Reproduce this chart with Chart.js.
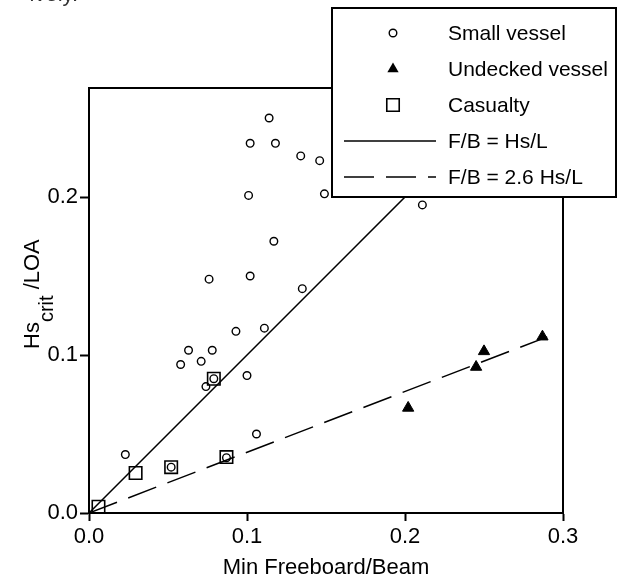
<!DOCTYPE html>
<html>
<head>
<meta charset="utf-8">
<script src="https://cdn.jsdelivr.net/npm/chart.js@4/dist/chart.umd.min.js"></script>
<style>
  html, body { margin: 0; padding: 0; background: #fff; }
  canvas { display: block; }
</style>
</head>
<body>
<canvas id="chart" width="618" height="582"></canvas>
<script>
var FONT = "'Liberation Sans', Arial, sans-serif"

var smallX = [0.114, 0.102, 0.118, 0.134, 0.146, 0.101, 0.149, 0.211, 0.117, 0.076, 0.102, 0.135, 0.093,
  0.111, 0.063, 0.078, 0.058, 0.071, 0.079, 0.074, 0.100, 0.106, 0.023, 0.052, 0.087]
var smallY = [0.250, 0.234, 0.234, 0.226, 0.223, 0.201, 0.202, 0.195, 0.172, 0.148, 0.150, 0.142, 0.115,
  0.117, 0.103, 0.103, 0.094, 0.096, 0.085, 0.080, 0.087, 0.050, 0.037, 0.029, 0.035]
var undeckedX = [0.202, 0.245, 0.250, 0.287]
var undeckedY = [0.0665, 0.0924, 0.1023, 0.1116]
var casualtyX = [0.006, 0.0295, 0.052, 0.087, 0.079]
var casualtyY = [0.004, 0.0253, 0.029, 0.0354, 0.085]
var lineX = [0, 0.27]
var lineY = [0, 0.27]
var dashX = [0, 0.29]
var dashY = [0, 0.1115]

var xTicks = [0, 0.1, 0.2, 0.3]
var yTicks = [0, 0.1, 0.2]
var labels = ['Small vessel', 'Undecked vessel', 'Casualty', 'F/B = Hs/L', 'F/B = 2.6 Hs/L']

var toPoints = function (xs, ys) {
  return xs.map(function (x, i) { return {x: x, y: ys[i]} })
}

var drawMarker = function (ctx, style, r, x, y) {
  ctx.beginPath()
  if (style === 'circle') {
    ctx.arc(x, y, r, 0, Math.PI * 2)
    ctx.lineWidth = 1.4
    ctx.stroke()
  } else if (style === 'triangle') {
    ctx.moveTo(x, y - r)
    ctx.lineTo(x + r * 0.866, y + r / 2)
    ctx.lineTo(x - r * 0.866, y + r / 2)
    ctx.closePath()
    ctx.fill()
  } else {
    var s = r * Math.SQRT1_2
    ctx.rect(x - s, y - s, 2 * s, 2 * s)
    ctx.lineWidth = 1.6
    ctx.stroke()
  }
}

var frame = {
  id: 'frame',
  afterDatasetsDraw: function (chart) {
    var ctx = chart.ctx
    var a = chart.chartArea
    ctx.save()
    ctx.strokeStyle = '#000'
    ctx.lineWidth = 2
    ctx.strokeRect(a.left, a.top, a.right - a.left, a.bottom - a.top)
    ctx.restore()
  }
}

var boxLegend = {
  id: 'boxLegend',
  afterDraw: function (chart) {
    var ctx = chart.ctx
    ctx.save()
    ctx.fillStyle = '#fff'
    ctx.fillRect(332, 8, 284, 189)
    ctx.strokeStyle = '#000'
    ctx.lineWidth = 2
    ctx.strokeRect(332, 8, 284, 189)

    chart.data.datasets.forEach(function (ds, i) {
      var y = 33 + i * 36
      ctx.strokeStyle = '#000'
      ctx.fillStyle = '#000'
      if (ds.showLine) {
        ctx.save()
        ctx.lineWidth = ds.borderWidth
        ctx.setLineDash(ds.borderDash || [])
        ctx.beginPath()
        ctx.moveTo(344, y)
        ctx.lineTo(436, y)
        ctx.stroke()
        ctx.restore()
      } else {
        drawMarker(ctx, ds.pointStyle, ds.pointRadius, 393, y)
      }
      ctx.fillStyle = '#000'
      ctx.font = '21px ' + FONT
      ctx.textBaseline = 'middle'
      ctx.textAlign = 'left'
      ctx.fillText(ds.label, 448, y + 1)
    })
    ctx.restore()
  }
}

var texts = {
  id: 'texts',
  afterDraw: function (chart) {
    var ctx = chart.ctx
    ctx.save()
    ctx.fillStyle = '#333'
    ctx.textAlign = 'right'
    ctx.textBaseline = 'alphabetic'
    ctx.font = '22px ' + FONT
    ctx.fillText('ively.', 78, 1)

    // y title with subscript
    ctx.fillStyle = '#000'
    ctx.translate(39, 349)
    ctx.rotate(-Math.PI / 2)
    ctx.textAlign = 'left'
    var x = 0
    ctx.font = '22px ' + FONT
    ctx.fillText('Hs', x, 0)
    x += ctx.measureText('Hs').width
    ctx.font = '20px ' + FONT
    ctx.fillText('crit', x, 14)
    x += ctx.measureText('crit').width
    ctx.font = '22px ' + FONT
    ctx.fillText(' /LOA', x, 0)
    ctx.restore()
  }
}

var axisGrid = {drawOnChartArea: false, drawTicks: true, tickWidth: 2, tickColor: '#000', color: '#000'}

new Chart(document.getElementById('chart'), {
  type: 'scatter',
  data: {
    datasets: [
      {label: labels[0], data: toPoints(smallX, smallY), pointStyle: 'circle', pointRadius: 3.8,
        borderColor: '#000', backgroundColor: 'rgba(0,0,0,0)', borderWidth: 1.4, clip: false},
      {label: labels[1], data: toPoints(undeckedX, undeckedY), pointStyle: 'triangle', pointRadius: 6.5,
        borderColor: '#000', backgroundColor: '#000', borderWidth: 1, clip: false},
      {label: labels[2], data: toPoints(casualtyX, casualtyY), pointStyle: 'rect', pointRadius: 8.8,
        borderColor: '#000', backgroundColor: 'rgba(0,0,0,0)', borderWidth: 1.6, clip: false},
      {label: labels[3], data: toPoints(lineX, lineY), showLine: true, pointRadius: 0,
        borderColor: '#000', borderWidth: 1.5, borderDash: []},
      {label: labels[4], data: toPoints(dashX, dashY), showLine: true, pointRadius: 0,
        borderColor: '#000', borderWidth: 1.5, borderDash: [30, 12]}
    ]
  },
  options: {
    responsive: false,
    animation: false,
    events: [],
    layout: {padding: {left: 0, top: 88, right: 55, bottom: 0}},
    plugins: {legend: {display: false}, tooltip: {enabled: false}},
    scales: {
      x: {
        type: 'linear', min: xTicks[0], max: xTicks[xTicks.length - 1],
        afterFit: function (s) { s.height = 69 },
        afterBuildTicks: function (s) { s.ticks = xTicks.map(function (v) { return {value: v} }) },
        ticks: {color: '#000', padding: 3, font: {family: FONT, size: 22},
          callback: function (v) { return v.toFixed(1) }},
        grid: Object.assign({tickLength: 8}, axisGrid),
        border: {color: '#000', width: 2},
        title: {display: true, text: 'Min Freeboard/Beam', color: '#000',
          font: {family: FONT, size: 22}, padding: {top: 0, bottom: 1}}
      },
      y: {
        type: 'linear', min: 0, max: 0.269,
        afterFit: function (s) { s.width = 89 },
        afterBuildTicks: function (s) { s.ticks = yTicks.map(function (v) { return {value: v} }) },
        ticks: {color: '#000', padding: 2, font: {family: FONT, size: 22},
          callback: function (v) { return v.toFixed(1) }},
        grid: Object.assign({tickLength: 9}, axisGrid),
        border: {color: '#000', width: 2}
      }
    }
  },
  plugins: [frame, boxLegend, texts]
})
</script>
</body>
</html>
